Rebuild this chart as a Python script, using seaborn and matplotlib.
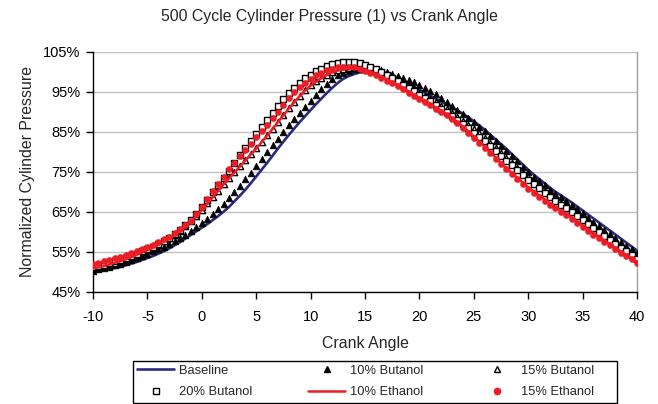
import numpy as np
import pandas as pd
import matplotlib
matplotlib.use("Agg")
import matplotlib.pyplot as plt
import seaborn as sns
from matplotlib.lines import Line2D
from matplotlib.patches import Rectangle

# ---------------- data ----------------
crank_angle = [-10 + 0.5 * i for i in range(101)]

baseline = [
    49.8, 50.0, 50.3, 50.6, 50.9, 51.2, 51.6, 52.0, 52.4, 52.9,
    53.4, 53.9, 54.5, 55.1, 55.8, 56.6, 57.4, 58.3, 59.2, 60.1,
    61.0, 61.9, 62.9, 63.9, 65.0, 66.2, 67.6, 69.0, 70.5, 72.1,
    73.8, 75.5, 77.2, 79.0, 80.8, 82.5, 84.2, 85.8, 87.4, 88.9,
    90.4, 91.9, 93.3, 94.7, 96.0, 97.2, 98.2, 98.9, 99.4, 99.8,
    100.0, 100.2, 100.2, 100.0, 99.6, 99.0, 98.3, 97.6, 96.9, 96.2,
    95.5, 94.8, 94.0, 93.3, 92.5, 91.8, 91.0, 90.3, 89.5, 88.6,
    87.6, 86.6, 85.5, 84.3, 83.1, 81.9, 80.7, 79.4, 78.1, 76.8,
    75.5, 74.3, 73.2, 72.1, 71.0, 70.0, 69.1, 68.2, 67.3, 66.3,
    65.3, 64.3, 63.3, 62.3, 61.3, 60.3, 59.3, 58.3, 57.3, 56.3,
    55.3]

butanol_10 = [
    50.3, 50.6, 50.9, 51.2, 51.6, 52.0, 52.4, 52.9, 53.4, 53.9,
    54.5, 55.1, 55.7, 56.3, 57.0, 57.7, 58.5, 59.3, 60.2, 61.2,
    62.2, 63.3, 64.5, 65.7, 67.0, 68.4, 69.9, 71.5, 73.1, 74.8,
    76.5, 78.2, 79.9, 81.6, 83.3, 85.0, 86.7, 88.3, 89.8, 91.3,
    92.8, 94.3, 95.8, 97.0, 98.1, 99.1, 99.8, 100.3, 100.6, 100.8,
    100.9, 100.9, 100.7, 100.4, 100.0, 99.5, 99.0, 98.5, 97.9, 97.4,
    96.8, 96.0, 95.2, 94.4, 93.5, 92.5, 91.5, 90.5, 89.4, 88.4,
    87.4, 86.3, 85.2, 84.0, 82.7, 81.5, 80.2, 78.9, 77.6, 76.3,
    75.0, 73.8, 72.7, 71.6, 70.5, 69.5, 68.6, 67.6, 66.7, 65.6,
    64.6, 63.5, 62.5, 61.5, 60.5, 59.5, 58.5, 57.5, 56.5, 55.6,
    54.6]

butanol_15 = [
    50.9, 51.2, 51.5, 51.9, 52.3, 52.7, 53.2, 53.7, 54.3, 54.9,
    55.5, 56.1, 56.8, 57.6, 58.4, 59.3, 60.3, 61.4, 62.6, 64.0,
    65.5, 67.1, 68.7, 70.3, 71.9, 73.4, 74.9, 76.4, 77.9, 79.4,
    80.9, 82.5, 84.1, 85.8, 87.5, 89.2, 90.9, 92.5, 94.0, 95.4,
    96.6, 97.6, 98.5, 99.3, 99.9, 100.4, 100.8, 101.0, 101.1, 101.0,
    100.9, 100.6, 100.2, 99.8, 99.2, 98.5, 97.8, 97.1, 96.3, 95.6,
    94.8, 94.0, 93.2, 92.4, 91.5, 90.6, 89.7, 88.8, 87.8, 86.8,
    85.7, 84.6, 83.5, 82.3, 81.0, 79.8, 78.5, 77.3, 76.0, 74.8,
    73.6, 72.5, 71.4, 70.3, 69.3, 68.3, 67.3, 66.3, 65.3, 64.3,
    63.3, 62.3, 61.3, 60.3, 59.3, 58.3, 57.3, 56.3, 55.3, 54.4,
    53.4]

butanol_20 = [
    51.2, 51.5, 51.8, 52.2, 52.6, 53.0, 53.5, 54.0, 54.5, 55.1,
    55.7, 56.3, 57.0, 57.7, 58.5, 59.4, 60.4, 61.6, 62.9, 64.5,
    66.2, 68.0, 69.9, 71.6, 73.5, 75.3, 77.2, 79.1, 81.0, 82.8,
    84.5, 86.3, 88.0, 89.8, 91.5, 93.1, 94.6, 96.0, 97.3, 98.4,
    99.3, 100.1, 100.8, 101.4, 101.9, 102.2, 102.4, 102.5, 102.4, 102.2,
    101.8, 101.2, 100.6, 99.9, 99.2, 98.4, 97.6, 96.8, 96.0, 95.1,
    94.3, 93.4, 92.6, 91.7, 90.8, 89.9, 88.9, 88.0, 87.0, 85.9,
    84.8, 83.7, 82.6, 81.4, 80.2, 79.0, 77.8, 76.6, 75.4, 74.2,
    73.0, 71.9, 70.9, 69.8, 68.8, 67.8, 66.8, 65.9, 64.9, 63.9,
    62.9, 62.0, 61.0, 60.0, 59.0, 58.0, 57.0, 56.0, 55.1, 54.1,
    53.2]

ethanol_10 = [
    50.8, 51.1, 51.4, 51.8, 52.2, 52.6, 53.1, 53.6, 54.2, 54.8,
    55.4, 56.0, 56.7, 57.5, 58.3, 59.2, 60.2, 61.3, 62.5, 63.9,
    65.4, 67.0, 68.6, 70.2, 71.8, 73.3, 74.8, 76.3, 77.8, 79.3,
    80.8, 82.4, 84.0, 85.7, 87.4, 89.1, 90.8, 92.4, 93.9, 95.3,
    96.5, 97.5, 98.4, 99.2, 99.8, 100.3, 100.6, 100.8, 100.8, 100.6,
    100.3, 99.9, 99.4, 98.8, 98.1, 97.4, 96.7, 95.9, 95.1, 94.3,
    93.5, 92.7, 91.9, 91.1, 90.3, 89.4, 88.4, 87.4, 86.3, 85.1,
    83.8, 82.5, 81.2, 79.9, 78.5, 77.2, 75.9, 74.7, 73.5, 72.3,
    71.1, 70.1, 69.1, 68.1, 67.1, 66.2, 65.2, 64.4, 63.5, 62.5,
    61.5, 60.6, 59.6, 58.7, 57.8, 56.9, 56.0, 55.1, 54.2, 53.4,
    52.5]

ethanol_15 = [
    52.0, 52.3, 52.6, 53.0, 53.4, 53.8, 54.2, 54.7, 55.2, 55.7,
    56.2, 56.8, 57.4, 58.1, 58.8, 59.7, 60.6, 61.6, 62.8, 64.4,
    66.2, 68.3, 70.2, 72.0, 73.8, 75.6, 77.3, 78.9, 80.5, 82.0,
    83.6, 85.2, 86.8, 88.4, 90.0, 91.8, 93.4, 94.9, 96.2, 97.3,
    98.3, 99.1, 99.8, 100.4, 100.8, 101.1, 101.2, 101.3, 101.1, 100.8,
    100.3, 99.8, 99.2, 98.5, 97.8, 97.1, 96.4, 95.6, 94.8, 94.0,
    93.2, 92.4, 91.6, 90.8, 90.0, 89.1, 88.1, 87.1, 86.0, 84.8,
    83.5, 82.2, 80.9, 79.6, 78.2, 76.9, 75.6, 74.4, 73.2, 72.0,
    70.8, 69.8, 68.8, 67.8, 66.8, 65.9, 64.9, 64.1, 63.2, 62.2,
    61.2, 60.3, 59.3, 58.4, 57.5, 56.6, 55.7, 54.8, 53.9, 53.1,
    52.2]

series_names = ["Baseline", "10% Butanol", "15% Butanol",
                "20% Butanol", "10% Ethanol", "15% Ethanol"]
y_ticks = [45, 55, 65, 75, 85, 95, 105]
x_ticks = [-10, -5, 0, 5, 10, 15, 20, 25, 30, 35, 40]

df = pd.DataFrame({"Crank Angle": crank_angle,
                   "Baseline": baseline,
                   "10% Butanol": butanol_10,
                   "15% Butanol": butanol_15,
                   "20% Butanol": butanol_20,
                   "10% Ethanol": ethanol_10,
                   "15% Ethanol": ethanol_15})

# ---------------- style ----------------
sns.set_theme(style="white")
plt.rcParams["font.family"] = ["Liberation Sans", "DejaVu Sans"]

W, H = 658, 404
fig = plt.figure(figsize=(W / 100, H / 100), dpi=100)
ax = fig.add_axes([93 / W, 1 - 291.7 / H, (637 - 93) / W, (291.7 - 51.7) / H])

navy = "#2A2A80"
red = "#EE1C25"

sns.lineplot(data=df, x="Crank Angle", y="Baseline", ax=ax, color=navy,
             linewidth=1.9, zorder=3)
sns.scatterplot(data=df, x="Crank Angle", y="10% Butanol", ax=ax, marker="^",
                s=22, color="black", edgecolor="black", linewidth=0.6, zorder=4)
sns.scatterplot(data=df, x="Crank Angle", y="15% Butanol", ax=ax, marker="^",
                s=20, facecolor="white", edgecolor="black", linewidth=1.0, zorder=5)
sns.scatterplot(data=df, x="Crank Angle", y="20% Butanol", ax=ax, marker="s",
                s=16, facecolor="white", edgecolor="black", linewidth=1.0, zorder=6)
sns.lineplot(data=df, x="Crank Angle", y="10% Ethanol", ax=ax, color=red,
             linewidth=1.8, zorder=7)
sns.scatterplot(data=df, x="Crank Angle", y="15% Ethanol", ax=ax, marker="o",
                s=20, color=red, edgecolor=red, linewidth=0.3, zorder=8)

ax.set_xlim(-10, 40)
ax.set_ylim(45, 105)
ax.set_xticks(x_ticks)
ax.set_xticklabels([str(v) for v in x_ticks])
ax.set_yticks(y_ticks)
ax.set_yticklabels([f"{v}%" for v in y_ticks])
ax.yaxis.grid(True, color="#C0C0C0", linewidth=1.0)
ax.xaxis.grid(False)
ax.set_axisbelow(True)

for side in ["left", "bottom"]:
    ax.spines[side].set_color("black")
    ax.spines[side].set_linewidth(1.0)
ax.spines["top"].set_visible(False)
ax.spines["right"].set_color("#A0A0A0")
ax.spines["right"].set_linewidth(1.0)

ax.tick_params(axis="both", which="both", direction="out", length=5, width=1.0,
               color="black", labelsize=10.5, labelcolor="black",
               bottom=True, left=True)
ax.tick_params(axis="x", pad=8)
ax.tick_params(axis="y", pad=4)

ax.set_xlabel("Crank Angle", fontsize=11.4, labelpad=9)
ax.set_ylabel("Normalized Cylinder Pressure", fontsize=11.4, labelpad=6)
fig.text(0.5, 1 - 17 / H, "500 Cycle Cylinder Pressure (1) vs Crank Angle",
         ha="center", va="center", fontsize=11.4)

# ---------------- legend ----------------
h_base = Line2D([], [], color=navy, linewidth=1.9)
h_b10 = Line2D([], [], linestyle="none", marker="^", markersize=4.8,
               markerfacecolor="black", markeredgecolor="black")
h_b15 = Line2D([], [], linestyle="none", marker="^", markersize=4.5,
               markerfacecolor="white", markeredgecolor="black", markeredgewidth=1.0)
h_b20 = Line2D([], [], linestyle="none", marker="s", markersize=4.0,
               markerfacecolor="white", markeredgecolor="black", markeredgewidth=1.0)
h_e10 = Line2D([], [], color=red, linewidth=1.8)
h_e15 = Line2D([], [], linestyle="none", marker="o", markersize=4.5,
               markerfacecolor=red, markeredgecolor=red)

handles = [h_base, h_b20, h_b10, h_e10, h_b15, h_e15]
labels = ["Baseline", "20% Butanol", "10% Butanol", "10% Ethanol",
          "15% Butanol", "15% Ethanol"]
leg = fig.legend(handles, labels, ncol=3,
                 bbox_to_anchor=(137 / W, 1 - 381.5 / H),
                 loc="center left", fontsize=9.3, frameon=False,
                 handlelength=2.9, handletextpad=0.35,
                 columnspacing=4.3, labelspacing=0.72,
                 borderpad=0.0, borderaxespad=0.0)

# legend box
fig.add_artist(Rectangle((133 / W, 1 - 403 / H), (617 - 133) / W, (403 - 361) / H,
                         transform=fig.transFigure, fill=False,
                         edgecolor="black", linewidth=1.0))

fig.savefig("out.png", dpi=100, facecolor="white")
